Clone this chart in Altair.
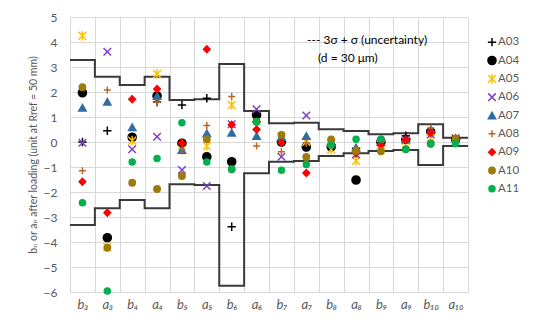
import json
import altair as alt
import pandas as pd

# ---- data ----
categories = ["b₃", "a₃", "b₄", "a₄", "b₅", "a₅", "b₆", "a₆",
              "b₇", "a₇", "b₈", "a₈", "b₉", "a₉", "b₁₀", "a₁₀"]

upper = [3.28, 2.61, 2.28, 2.61, 1.68, 1.71, 3.12, 1.24,
         0.75, 0.77, 0.51, 0.44, 0.31, 0.35, 0.71, 0.17]
lower = [-3.32, -2.65, -2.32, -2.65, -1.69, -1.72, -5.75, -1.25,
         -0.79, -0.76, -0.56, -0.45, -0.36, -0.32, -0.92, -0.16]

series_names = ["A03", "A04", "A05", "A06", "A07", "A08", "A09", "A10", "A11"]

A03 = [0.00, 0.45, 0.19, 1.60, 1.48, 1.75, -3.39, 0.81, -0.03, -0.21, -0.12, -0.25, -0.01, 0.25, 0.48, 0.12]
A04 = [1.97, -3.83, 0.19, 1.84, -0.05, -0.59, -0.79, 1.08, 0.00, -0.20, -0.19, -1.52, 0.00, 0.10, 0.40, 0.10]
A05 = [4.25, -4.20, 0.05, 2.72, -0.32, -0.16, 1.48, 0.64, 0.22, 0.01, -0.30, -0.75, -0.10, 0.05, 0.17, 0.15]
A06 = [-0.03, 3.61, -0.29, 0.21, -1.12, -1.76, 0.71, 1.31, -0.59, 1.06, -0.05, -0.50, 0.00, 0.10, 0.30, 0.15]
A07 = [1.37, 1.61, 0.59, 1.84, -0.32, 0.35, 0.37, 0.24, 0.20, 0.24, 0.00, -0.22, 0.00, 0.10, 0.48, 0.15]
A08 = [-1.15, 2.08, 1.72, 1.59, -0.30, 0.66, 1.82, -0.16, -0.39, -0.03, 0.00, -0.30, 0.05, 0.10, 0.56, 0.12]
A09 = [-1.59, -2.83, 1.71, 2.12, -0.04, 3.71, 0.69, 0.50, -0.03, -1.24, -0.10, -0.45, -0.12, 0.08, 0.37, 0.10]
A10 = [2.19, -4.23, -1.63, -1.88, -1.36, 0.11, -1.09, 0.81, 0.28, -0.60, 0.10, -0.36, -0.37, -0.29, -0.07, 0.12]
A11 = [-2.43, -5.96, -0.80, -0.66, 0.77, -0.80, -1.09, 0.81, -1.13, -0.90, -0.12, 0.11, 0.12, -0.29, -0.07, -0.07]
series_values = [A03, A04, A05, A06, A07, A08, A09, A10, A11]

colors = ["#000000", "#000000", "#FFC000", "#7B3FC8", "#2E6DA4",
          "#B8652C", "#FF0000", "#9C7A0C", "#00B050"]
fills = ["transparent", "#000000", "transparent", "transparent", "#2E6DA4",
         "transparent", "#FF0000", "#9C7A0C", "#00B050"]
PLUS = "M-1,0H1M0,-1V1"
XMARK = "M-1,-1L1,1M-1,1L1,-1"
STAR = "M-1,-1L1,1M-1,1L1,-1M0,-1.2V1.2"
shapes = [PLUS, "circle", STAR, XMARK, "triangle-up", PLUS, "diamond", "circle", "circle"]
sizes = [70, 36, 55, 55, 42, 70, 32, 26, 58]

y_title = "bₙ or aₙ after loading (unit at Rref = 50 mm)"
annot_lines = ["--- 3σ + σ (uncertainty)", "(d = 30 μm)"]

# ---- tables ----
rows = []
for name, vals in zip(series_names, series_values):
    for i, v in enumerate(vals):
        rows.append({"series": name, "x": i + 0.5, "value": v})
points = pd.DataFrame(rows)

step_rows = []
for bound, vals in (("upper", upper), ("lower", lower)):
    for i in range(len(categories) + 1):
        step_rows.append({"bound": bound, "x": i, "value": vals[min(i, len(vals) - 1)]})
steps = pd.DataFrame(step_rows)

legend_df = pd.DataFrame({"series": series_names})

FONT = "Lato, 'DejaVu Sans', sans-serif"
GRID = "#d9d9d9"
TXT = "#595959"

label_expr = json.dumps(categories, ensure_ascii=False) + "[datum.value] || ''"

x_scale = alt.Scale(domain=[0, len(categories)], nice=False, zero=False)
y_scale = alt.Scale(domain=[-6, 5], nice=False)

x_axis = alt.Axis(values=list(range(len(categories) + 1)), labelExpr=label_expr,
                  labelOffset=12.5, labelFlush=False, labelOverlap=False,
                  ticks=False, grid=True, gridColor=GRID, domainColor=GRID,
                  labelFont=FONT, labelFontSize=13, labelFontStyle="italic",
                  labelColor=TXT, labelPadding=6, title=None)
y_axis = alt.Axis(values=list(range(-6, 6)), ticks=False, grid=True, gridColor=GRID,
                  domainColor=GRID, labelFont=FONT, labelFontSize=12, labelColor=TXT,
                  labelPadding=13, labelOverlap=False, labelFlush=False, title=None)

stroke_enc = alt.Stroke("series:N", scale=alt.Scale(domain=series_names, range=colors), legend=None)
fill_enc = alt.Fill("series:N", scale=alt.Scale(domain=series_names, range=fills), legend=None)
shape_enc = alt.Shape("series:N", scale=alt.Scale(domain=series_names, range=shapes), legend=None)
size_enc = alt.Size("series:N", scale=alt.Scale(domain=series_names, range=sizes), legend=None)

step_layer = alt.Chart(steps).mark_line(
    interpolate="step-after", color="#3a3a3a", strokeWidth=2
).encode(
    x=alt.X("x:Q", scale=x_scale, axis=x_axis),
    y=alt.Y("value:Q", scale=y_scale, axis=y_axis),
    detail="bound:N",
)

point_layer = alt.Chart(points).mark_point(strokeWidth=1.5, opacity=1).encode(
    x=alt.X("x:Q", scale=x_scale, axis=x_axis),
    y=alt.Y("value:Q", scale=y_scale, axis=y_axis),
    stroke=stroke_enc, fill=fill_enc, shape=shape_enc, size=size_enc,
)

annot1 = alt.Chart(pd.DataFrame({"t": [annot_lines[0]]})).mark_text(
    align="left", baseline="middle", font=FONT, fontSize=12, color="#000000"
).encode(text="t:N", x=alt.value(237), y=alt.value(23))
annot2 = alt.Chart(pd.DataFrame({"t": [annot_lines[1]]})).mark_text(
    align="left", baseline="middle", font=FONT, fontSize=12, color="#000000"
).encode(text="t:N", x=alt.value(248), y=alt.value(41))
title_layer = alt.Chart(pd.DataFrame({"t": [y_title]})).mark_text(
    angle=270, align="center", baseline="middle", font=FONT, fontSize=10.5,
    color=TXT, lineBreak="\x00", limit=600
).encode(text="t:N", x=alt.value(-36), y=alt.value(138))

main = alt.layer(step_layer, point_layer, annot1, annot2, title_layer)

leg_y = alt.Y("series:N", scale=alt.Scale(domain=series_names, range=[16, 181]), axis=None)
legend_pts = alt.Chart(legend_df).mark_point(strokeWidth=1.5, opacity=1).encode(
    x=alt.value(422), y=leg_y,
    stroke=stroke_enc, fill=fill_enc, shape=shape_enc, size=size_enc,
)
legend_txt = alt.Chart(legend_df).mark_text(
    align="left", baseline="middle", font=FONT, fontSize=11.5, color=TXT
).encode(x=alt.value(428), y=leg_y, text="series:N")
legend_layer = alt.layer(legend_pts, legend_txt)

chart = alt.layer(main, legend_layer).resolve_scale(y="independent").properties(
    width=398, height=275,
    autosize=alt.AutoSizeParams(type="none"),
    padding={"left": 62, "top": 9, "right": 62, "bottom": 30},
).configure_view(stroke=GRID)

chart.save("out.html", embed_options={"renderer": "svg", "actions": False})
